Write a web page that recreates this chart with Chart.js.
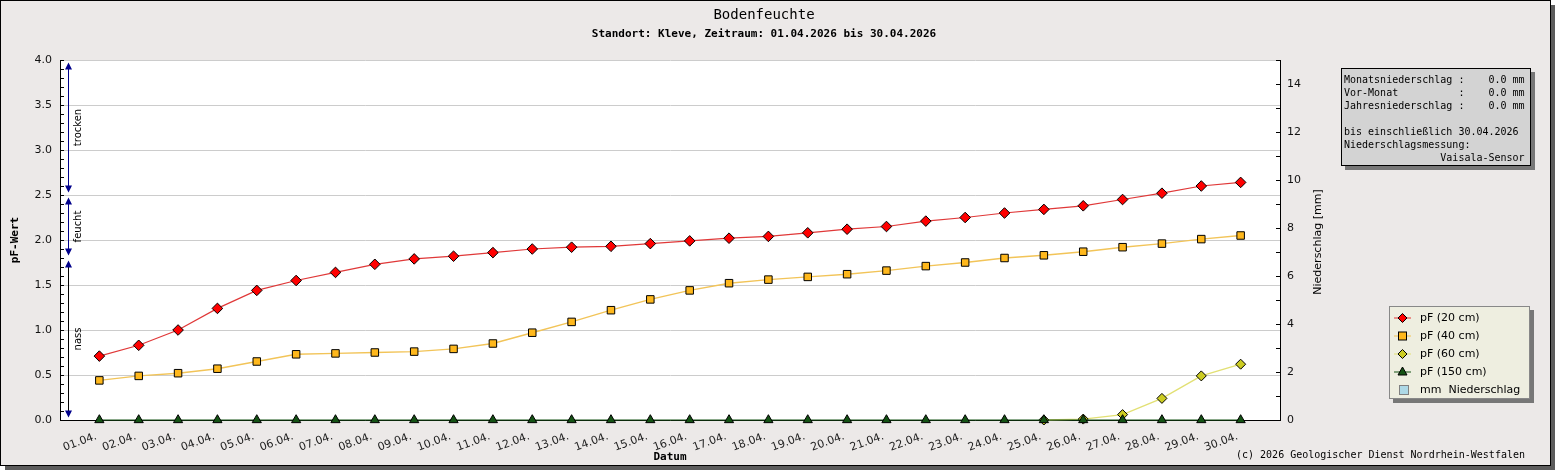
<!DOCTYPE html>
<html lang="de">
<head>
<meta charset="utf-8">
<title>Bodenfeuchte Kleve</title>
<script src="https://cdn.jsdelivr.net/npm/chart.js@4.4.1/dist/chart.umd.min.js"></script>
<style>
    body { margin: 0; background: #fff; }
    #rahmen {
        position: absolute; left: 0; top: 0;
        width: 1549px; height: 464px;
        border: 1px solid #000;
        background: #ECE9E8;
        box-shadow: 5px 5px 0 #5c5c5c;
    }
    #bodenChart { position: absolute; left: 0; top: 0; }
    .text { position: absolute; color: #000; white-space: pre; }
    #titel { left: 764px; top: 6px; transform: translateX(-50%); font: 14px/16px "DejaVu Sans Mono", monospace; }
    #untertitel { left: 764px; top: 27px; transform: translateX(-50%); font: bold 11px/13px "DejaVu Sans Mono", monospace; }
    #copyright { left: 1236px; top: 449px; font: 10px/12px "DejaVu Sans Mono", monospace; }
    #infobox {
        left: 1341px; top: 68px; width: 190px; height: 98px; box-sizing: border-box;
        border: 1px solid #000; background: #D3D3D3; box-shadow: 4px 4px 0 #777;
        padding: 4px 0 0 2px; font: 10px/13px "DejaVu Sans Mono", monospace;
    }
    #legende {
        left: 1389px; top: 306px; width: 141px; height: 93px; box-sizing: border-box;
        border: 1px solid #888; background: #EEEEE0; box-shadow: 4px 4px 0 #777;
        padding: 2px 0 0 4px; font: 11px/18px "DejaVu Sans", sans-serif;
    }
    .zeile { display: flex; align-items: center; height: 18px; }
    .zeile svg { width: 17px; height: 12px; margin-right: 9px; }
</style>
</head>
<body>
<div id="rahmen"></div>
<canvas id="bodenChart" width="1555" height="470"></canvas>
<div class="text" id="titel">Bodenfeuchte</div>
<div class="text" id="untertitel">Standort: Kleve, Zeitraum: 01.04.2026 bis 30.04.2026</div>
<div class="text" id="infobox"></div>
<div class="text" id="legende"></div>
<div class="text" id="copyright">(c) 2026 Geologischer Dienst Nordrhein-Westfalen</div>
<script>
// Daten April 2026
var tage = ['01.04.', '02.04.', '03.04.', '04.04.', '05.04.', '06.04.', '07.04.', '08.04.', '09.04.', '10.04.',
            '11.04.', '12.04.', '13.04.', '14.04.', '15.04.', '16.04.', '17.04.', '18.04.', '19.04.', '20.04.',
            '21.04.', '22.04.', '23.04.', '24.04.', '25.04.', '26.04.', '27.04.', '28.04.', '29.04.', '30.04.'];
var pf20 = [0.71, 0.83, 1.00, 1.24, 1.44, 1.55, 1.64, 1.73, 1.79, 1.82,
            1.86, 1.90, 1.92, 1.93, 1.96, 1.99, 2.02, 2.04, 2.08, 2.12,
            2.15, 2.21, 2.25, 2.30, 2.34, 2.38, 2.45, 2.52, 2.60, 2.64];
var pf40 = [0.44, 0.49, 0.52, 0.57, 0.65, 0.73, 0.74, 0.75, 0.76, 0.79,
            0.85, 0.97, 1.09, 1.22, 1.34, 1.44, 1.52, 1.56, 1.59, 1.62,
            1.66, 1.71, 1.75, 1.80, 1.83, 1.87, 1.92, 1.96, 2.01, 2.05];
var pf60 = [null, null, null, null, null, null, null, null, null, null,
            null, null, null, null, null, null, null, null, null, null,
            null, null, null, null, 0.00, 0.01, 0.06, 0.24, 0.49, 0.62];
var pf150 = [0, 0, 0, 0, 0, 0, 0, 0, 0, 0,
             0, 0, 0, 0, 0, 0, 0, 0, 0, 0,
             0, 0, 0, 0, 0, 0, 0, 0, 0, 0];
var niederschlag = [0, 0, 0, 0, 0, 0, 0, 0, 0, 0,
                    0, 0, 0, 0, 0, 0, 0, 0, 0, 0,
                    0, 0, 0, 0, 0, 0, 0, 0, 0, 0];
var pfTicks = [0, 0.5, 1.0, 1.5, 2.0, 2.5, 3.0, 3.5, 4.0];
var mmTicks = [0, 2, 4, 6, 8, 10, 12, 14];

// Bereiche am linken Rand (pF)
var zonen = [
    { text: 'trocken', von: 2.5, bis: 4.0, farbe: '#00008B' },
    { text: 'feucht', von: 1.8, bis: 2.5, farbe: '#00008B' },
    { text: 'nass', von: 0.0, bis: 1.8, farbe: '#000000' }
];

// Infokasten
var infoWerte = [['Monatsniederschlag', 0.0], ['Vor-Monat', 0.0], ['Jahresniederschlag', 0.0]];
var infoStand = '30.04.2026';
var infoSensor = 'Vaisala-Sensor';

function punkte(werte) {
    return werte.map(function (v, i) { return { x: i + 1, y: v }; });
}

var mono = 'DejaVu Sans Mono';
Chart.defaults.font.family = 'DejaVu Sans';
Chart.defaults.color = '#111';

// weisser Plotbereich + Skalenstriche + Bereichspfeile + rechte Achsenbeschriftung
var bodenPlugin = {
    id: 'bodenPlugin',
    beforeDraw: function (chart) {
        var ca = chart.chartArea, ctx = chart.ctx;
        ctx.save();
        ctx.fillStyle = '#fff';
        ctx.fillRect(ca.left, ca.top, ca.right - ca.left, ca.bottom - ca.top);
        ctx.restore();
    },
    afterDraw: function (chart) {
        var ca = chart.chartArea, ctx = chart.ctx;
        var y = chart.scales.y, y1 = chart.scales.y1;
        ctx.save();
        ctx.strokeStyle = '#000';
        ctx.lineWidth = 1;
        ctx.beginPath();
        for (var i = 0; i <= 40; i++) {
            var py = Math.round(y.getPixelForValue(i / 10)) + 0.5;
            ctx.moveTo(ca.left, py); ctx.lineTo(ca.left + 4, py);
        }
        for (var j = 0; j <= 15; j++) {
            var py1 = Math.round(y1.getPixelForValue(j)) + 0.5;
            ctx.moveTo(ca.right - 4, py1); ctx.lineTo(ca.right, py1);
        }
        ctx.stroke();

        // Titel der rechten Achse, von unten nach oben gelesen
        ctx.save();
        ctx.translate(ca.right + 41, (ca.top + ca.bottom) / 2 + 2);
        ctx.rotate(-Math.PI / 2);
        ctx.fillStyle = '#000';
        ctx.font = '11px "DejaVu Sans"';
        ctx.textAlign = 'center';
        ctx.textBaseline = 'alphabetic';
        ctx.fillText('Niederschlag [mm]', 0, 0);
        ctx.restore();

        var x = Math.round(ca.left + 8) + 0.5;
        zonen.forEach(function (z) {
            var oben = y.getPixelForValue(z.bis) + 2.5;
            var unten = y.getPixelForValue(z.von) - 2.5;
            ctx.strokeStyle = z.farbe;
            ctx.beginPath();
            ctx.moveTo(x, oben + 4); ctx.lineTo(x, unten - 4);
            ctx.stroke();
            ctx.fillStyle = '#00008B';
            ctx.beginPath();
            ctx.moveTo(x, oben); ctx.lineTo(x - 3.5, oben + 7); ctx.lineTo(x + 3.5, oben + 7); ctx.closePath();
            ctx.moveTo(x, unten); ctx.lineTo(x - 3.5, unten - 7); ctx.lineTo(x + 3.5, unten - 7); ctx.closePath();
            ctx.fill();
            ctx.save();
            ctx.translate(x + 12, (oben + unten) / 2);
            ctx.rotate(-Math.PI / 2);
            ctx.fillStyle = '#000';
            ctx.font = '10px "DejaVu Sans"';
            ctx.textAlign = 'center';
            ctx.textBaseline = 'alphabetic';
            ctx.fillText(z.text, 0, 0);
            ctx.restore();
        });
        ctx.restore();
    }
};

var ctx = document.getElementById('bodenChart').getContext('2d');
var bodenChart = new Chart(ctx, {
    type: 'line',
    data: {
        datasets: [{
            label: 'pF (20 cm)',
            data: punkte(pf20),
            borderColor: '#E03838',
            borderWidth: 1.2,
            pointStyle: 'rectRot',
            pointRadius: 5.3,
            pointBackgroundColor: '#FF0000',
            pointBorderColor: '#000',
            pointBorderWidth: 1,
            order: 1
        }, {
            label: 'pF (40 cm)',
            data: punkte(pf40),
            borderColor: '#F2C458',
            borderWidth: 1.4,
            pointStyle: 'rect',
            pointRadius: 5.3,
            pointBackgroundColor: '#FFB81C',
            pointBorderColor: '#000',
            pointBorderWidth: 1,
            order: 2
        }, {
            label: 'pF (60 cm)',
            data: punkte(pf60),
            borderColor: '#E2E074',
            borderWidth: 1.4,
            pointStyle: 'rectRot',
            pointRadius: 5,
            pointBackgroundColor: '#CCCC22',
            pointBorderColor: '#000',
            pointBorderWidth: 1,
            order: 3
        }, {
            label: 'pF (150 cm)',
            data: punkte(pf150),
            borderColor: '#145214',
            borderWidth: 1,
            pointStyle: 'triangle',
            pointRadius: 5.3,
            pointBackgroundColor: '#145214',
            pointBorderColor: '#000',
            pointBorderWidth: 1,
            order: 0
        }, {
            type: 'bar',
            label: 'mm  Niederschlag',
            data: punkte(niederschlag),
            yAxisID: 'y1',
            backgroundColor: '#ADD8E6',
            borderColor: '#808080',
            borderWidth: 1,
            barThickness: 20,
            order: 5
        }]
    },
    options: {
        responsive: false,
        devicePixelRatio: 1,
        animation: false,
        events: [],
        layout: { padding: { top: 60, left: 0, right: 230, bottom: 5 } },
        elements: { line: { tension: 0 } },
        datasets: { line: { clip: false } },
        plugins: {
            legend: { display: false },
            tooltip: { enabled: false },
            title: { display: false }
        },
        scales: {
            x: {
                type: 'linear',
                position: 'bottom',
                offset: false,
                min: 0,
                max: tage.length + 1,
                grid: { display: false, offset: false },
                border: { display: true, color: '#000', width: 1 },
                afterBuildTicks: function (s) {
                    s.ticks = tage.map(function (t, i) { return { value: i + 1 }; });
                },
                afterFit: function (s) { s.height = 45; },
                ticks: {
                    autoSkip: false,
                    minRotation: 20,
                    maxRotation: 20,
                    padding: 2,
                    labelOffset: -3,
                    font: { size: 11 },
                    color: '#222',
                    callback: function (v) { return tage[v - 1] || ''; }
                },
                title: {
                    display: true,
                    text: 'Datum',
                    color: '#000',
                    font: { family: mono, size: 11, weight: 'bold' },
                    padding: { top: 0, bottom: 1.5 }
                }
            },
            y: {
                position: 'left',
                min: 0,
                max: 4,
                grid: { color: '#CCCCCC', drawTicks: false },
                border: { display: true, color: '#000', width: 1 },
                afterBuildTicks: function (s) {
                    s.ticks = pfTicks.map(function (v) { return { value: v }; });
                },
                afterFit: function (s) { s.width = 60; },
                ticks: {
                    padding: 8,
                    font: { size: 11 },
                    callback: function (v) { return v.toFixed(1); }
                },
                title: {
                    display: true,
                    text: 'pF-Wert',
                    color: '#000',
                    font: { family: mono, size: 11, weight: 'bold' },
                    padding: { top: 9, bottom: 0 }
                }
            },
            y1: {
                position: 'right',
                min: 0,
                max: 15,
                grid: { drawOnChartArea: false, drawTicks: false },
                border: { display: true, color: '#000', width: 1 },
                afterBuildTicks: function (s) {
                    s.ticks = mmTicks.map(function (v) { return { value: v }; });
                },
                afterFit: function (s) { s.width = 45; },
                ticks: {
                    padding: 7,
                    font: { size: 11 }
                }
            }
        }
    },
    plugins: [bodenPlugin]
});

// Infokasten
var infoZeilen = infoWerte.map(function (w) {
    return w[0].padEnd(19) + ':' + w[1].toFixed(1).padStart(7) + ' mm';
});
infoZeilen.push('');
infoZeilen.push('bis einschließlich ' + infoStand);
infoZeilen.push('Niederschlagsmessung:');
infoZeilen.push(infoSensor.padStart(30));
document.getElementById('infobox').textContent = infoZeilen.join('\n');

// Legende aus den Datensaetzen
function symbol(ds) {
    if (ds.type === 'bar') {
        return '<svg viewBox="0 0 17 12"><rect x="5.5" y="1.5" width="9" height="9" fill="' + ds.backgroundColor +
               '" stroke="' + ds.borderColor + '"/></svg>';
    }
    var c = 8.5, m = 6, form = '';
    var fill = ds.pointBackgroundColor;
    if (ds.pointStyle === 'rectRot') {
        form = '<polygon points="' + c + ',' + (m - 4.5) + ' ' + (c + 4.5) + ',' + m + ' ' + c + ',' + (m + 4.5) + ' ' + (c - 4.5) + ',' + m + '"';
    } else if (ds.pointStyle === 'rect') {
        form = '<rect x="' + (c - 4) + '" y="' + (m - 4) + '" width="8" height="8"';
    } else {
        form = '<polygon points="' + c + ',' + (m - 5) + ' ' + (c + 4.5) + ',' + (m + 3) + ' ' + (c - 4.5) + ',' + (m + 3) + '"';
    }
    return '<svg viewBox="0 0 17 12"><line x1="0" y1="6" x2="17" y2="6" stroke="' + ds.borderColor + '" stroke-width="1"/>' +
           form + ' fill="' + fill + '" stroke="#000" stroke-width="1"/></svg>';
}
var legende = document.getElementById('legende');
bodenChart.data.datasets.forEach(function (ds) {
    var zeile = document.createElement('div');
    zeile.className = 'zeile';
    zeile.innerHTML = symbol(ds) + '<span></span>';
    zeile.querySelector('span').textContent = ds.label;
    legende.appendChild(zeile);
});
</script>
</body>
</html>
